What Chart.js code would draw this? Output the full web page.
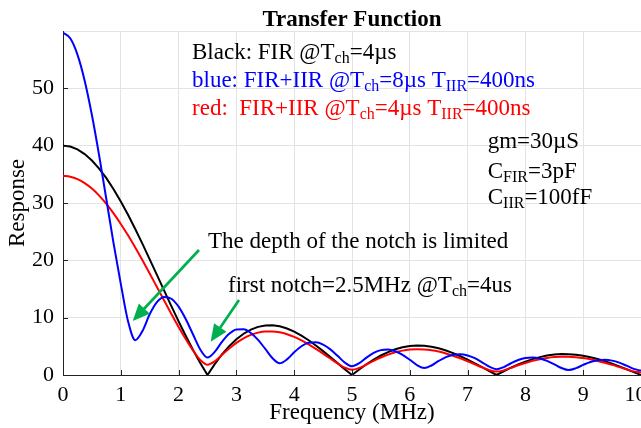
<!DOCTYPE html>
<html>
<head>
<meta charset="utf-8">
<script src="https://cdn.jsdelivr.net/npm/chart.js@4.4.1/dist/chart.umd.min.js"></script>
<style>
html,body{margin:0;padding:0;background:#fff;overflow:hidden;}
canvas{display:block;}
</style>
</head>
<body>
<canvas id="c" width="641" height="428"></canvas>
<script>
// ---- data ----
const freq = [0,0.125,0.25,0.375,0.5,0.625,0.75,0.875,1,1.125,1.25,1.375,1.5,1.625,1.75,1.875,2,2.125,2.25,2.375,2.5,2.625,2.75,2.875,3,3.125,3.25,3.375,3.5,3.625,3.75,3.875,4,4.125,4.25,4.375,4.5,4.625,4.75,4.875,5,5.125,5.25,5.375,5.5,5.625,5.75,5.875,6,6.125,6.25,6.375,6.5,6.625,6.75,6.875,7,7.125,7.25,7.375,7.5,7.625,7.75,7.875,8,8.125,8.25,8.375,8.5,8.625,8.75,8.875,9,9.125,9.25,9.375,9.5,9.625,9.75,9.875,10];

const blackFIR4us = [40,39.84,39.35,38.54,37.42,36.01,34.34,32.41,30.27,27.95,
  25.46,22.86,20.18,17.45,14.72,12.00,9.35,6.80,4.37,2.10,
  0,1.90,3.58,5.03,6.24,7.20,7.92,8.40,8.65,8.67,
  8.49,8.11,7.57,6.88,6.06,5.14,4.16,3.12,2.07,1.02,
  0,0.97,1.87,2.69,3.40,4.00,4.48,4.83,5.05,5.13,
  5.09,4.93,4.66,4.28,3.82,3.27,2.67,2.03,1.36,0.68,
  0,0.65,1.27,1.84,2.34,2.77,3.12,3.39,3.56,3.65,
  3.64,3.54,3.36,3.11,2.78,2.40,1.97,1.50,1.01,0.50,
  0];

const redFIRIIR4us = [34.73,34.59,34.17,33.47,32.51,31.29,29.85,28.19,26.35,24.36,
  22.22,20.00,17.71,15.34,12.99,10.65,8.39,6.25,4.28,2.63,
  1.80,2.37,3.51,4.62,5.60,6.39,6.99,7.39,7.59,7.60,
  7.44,7.12,6.65,6.05,5.35,4.57,3.74,2.87,2.02,1.28,
  0.90,1.22,1.83,2.48,3.05,3.55,3.96,4.25,4.43,4.50,
  4.46,4.32,4.09,3.76,3.37,2.90,2.40,1.87,1.33,0.85,
  0.60,0.81,1.24,1.69,2.10,2.46,2.75,2.98,3.13,3.20,
  3.19,3.10,2.95,2.73,2.45,2.13,1.77,1.38,0.99,0.63,
  0.45];

const blueFIRIIR8us = [59.70,58.73,55.88,51.33,45.34,38.31,30.65,22.95,15.89,9.39,
  6.08,7.68,10.60,12.72,13.62,13.30,11.92,9.72,7.07,4.45,
  3.04,4.03,5.78,7.18,7.94,7.98,7.33,6.12,4.54,2.92,
  2.03,2.72,3.97,5.01,5.61,5.70,5.30,4.47,3.35,2.17,
  1.52,2.06,3.03,3.85,4.34,4.43,4.14,3.52,2.65,1.73,
  1.22,1.66,2.45,3.12,3.53,3.62,3.41,2.93,2.22,1.45,
  1.01,1.38,2.05,2.62,2.98,3.07,2.89,2.46,1.87,1.22,
  0.87,1.19,1.76,2.27,2.57,2.66,2.51,2.15,1.63,1.07,
  0.76];

const xTicks = [0,1,2,3,4,5,6,7,8,9,10];
const yTicks = [0,10,20,30,40,50];

// ---- annotation texts ----
const FAM = "'Liberation Serif','Times New Roman',serif";
const notes = [
  {at:[2.232,55.12], color:'#000000', runs:['Black: FIR @T',['ch'],'=4µs']},
  {at:[2.232,50.18], color:'#0000ff', runs:['blue: FIR+IIR @T',['ch'],'=8µs T',['IIR'],'=400ns']},
  {at:[2.232,45.35], color:'#ff0000', runs:['red:  FIR+IIR @T',['ch'],'=4µs T',['IIR'],'=400ns']},
  {at:[7.348,39.54], color:'#000000', runs:['gm=30µS']},
  {at:[7.348,34.31], color:'#000000', runs:['C',['FIR'],'=3pF']},
  {at:[7.348,29.83], color:'#000000', runs:['C',['IIR'],'=100fF']},
  {at:[2.509,22.15], color:'#000000', runs:['The depth of the notch is limited']},
  {at:[2.855,14.43], color:'#000000', runs:['first notch=2.5MHz @T',['ch'],'=4us']}
];
const arrows = [
  {from:[2.353,21.8], to:[1.206,9.42]},
  {from:[3.045,13.08], to:[2.555,5.82]}
];

function pts(ys){ return freq.map((f,i)=>({x:f, y:ys[i]})); }

const deco = {
  id:'deco',
  afterDatasetsDraw(chart){
    const {ctx, scales:{x,y}, chartArea:ca} = chart;
    ctx.save();
    // inward tick marks
    ctx.strokeStyle = '#222'; ctx.lineWidth = 1;
    xTicks.forEach(v=>{
      const px = Math.round(x.getPixelForValue(v))+0.5;
      ctx.beginPath(); ctx.moveTo(px, ca.bottom); ctx.lineTo(px, ca.bottom-5); ctx.stroke();
    });
    yTicks.forEach(v=>{
      const py = Math.round(y.getPixelForValue(v))+0.5;
      ctx.beginPath(); ctx.moveTo(ca.left, py); ctx.lineTo(ca.left+5, py); ctx.stroke();
    });
    // green arrows
    arrows.forEach(a=>{
      const x1=x.getPixelForValue(a.from[0]), y1=y.getPixelForValue(a.from[1]);
      const x2=x.getPixelForValue(a.to[0]), y2=y.getPixelForValue(a.to[1]);
      const ang=Math.atan2(y2-y1,x2-x1), L=17, W=7.5;
      const bx=x2-L*Math.cos(ang), by=y2-L*Math.sin(ang);
      ctx.strokeStyle='#00b050'; ctx.fillStyle='#00b050'; ctx.lineWidth=2.7;
      ctx.beginPath(); ctx.moveTo(x1,y1); ctx.lineTo(bx+2*Math.cos(ang),by+2*Math.sin(ang)); ctx.stroke();
      ctx.beginPath(); ctx.moveTo(x2,y2);
      ctx.lineTo(bx - W*Math.sin(ang), by + W*Math.cos(ang));
      ctx.lineTo(bx + W*Math.sin(ang), by - W*Math.cos(ang));
      ctx.closePath(); ctx.fill();
    });
    // texts
    ctx.textBaseline='alphabetic'; ctx.textAlign='left';
    notes.forEach(n=>{
      let cx = x.getPixelForValue(n.at[0]);
      const by = y.getPixelForValue(n.at[1]);
      ctx.fillStyle = n.color;
      n.runs.forEach(r=>{
        const sub = Array.isArray(r); const t = sub ? r[0] : r;
        ctx.font = (sub ? '16px ' : '23px ') + FAM;
        ctx.fillText(t, cx, by + (sub ? 4 : 0));
        cx += ctx.measureText(t).width;
      });
    });
    // title
    ctx.fillStyle='#000'; ctx.font='bold 23px '+FAM; ctx.textAlign='center';
    ctx.fillText('Transfer Function', (ca.left+ca.right)/2, 26);
    ctx.restore();
  }
};

Chart.defaults.font.family = FAM;
Chart.defaults.color = '#000';

new Chart(document.getElementById('c'), {
  type:'line',
  data:{
    datasets:[
      {label:'blue: FIR+IIR @Tch=8µs TIIR=400ns', data:pts(blueFIRIIR8us), borderColor:'#0000ff', borderWidth:2, pointRadius:0, fill:false, cubicInterpolationMode:'monotone'},
      {label:'red: FIR+IIR @Tch=4µs TIIR=400ns', data:pts(redFIRIIR4us), borderColor:'#ff0000', borderWidth:2, pointRadius:0, fill:false, cubicInterpolationMode:'monotone'},
      {label:'Black: FIR @Tch=4µs', data:pts(blackFIR4us), borderColor:'#000000', borderWidth:2, pointRadius:0, fill:false, tension:0}
    ]
  },
  options:{
    responsive:false, animation:false, devicePixelRatio:1,
    layout:{padding:{top:31,right:0,left:0,bottom:0}},
    plugins:{legend:{display:false}, tooltip:{enabled:false}, title:{display:false}},
    scales:{
      x:{type:'linear', min:0, max:10,
        afterBuildTicks(s){ s.ticks = xTicks.map(v=>({value:v})); },
        ticks:{font:{size:22}, color:'#000', padding:7, maxRotation:0, autoSkip:false,
          callback:v=> v===10 ? '10\u2002' : String(v)},
        grid:{color:'#e3e3e3', drawTicks:false},
        border:{color:'#222', width:1},
        title:{display:true, text:'Frequency (MHz)', font:{size:23}, color:'#000', padding:{top:0,bottom:1}},
        afterFit(s){ s.height=53; s.paddingRight=0; s.paddingLeft=0; }
      },
      y:{type:'linear', min:0, max:60,
        ticks:{stepSize:10, font:{size:22}, color:'#000', padding:9,
          callback:v=> v===60 ? '' : String(v)},
        grid:{color:'#e3e3e3', drawTicks:false},
        border:{color:'#222', width:1},
        title:{display:true, text:'Response', font:{size:23}, color:'#000', padding:{top:4,bottom:0}},
        afterFit(s){ s.width=63; s.paddingTop=0; s.paddingBottom=0; }
      }
    }
  },
  plugins:[deco]
});
</script>
</body>
</html>
